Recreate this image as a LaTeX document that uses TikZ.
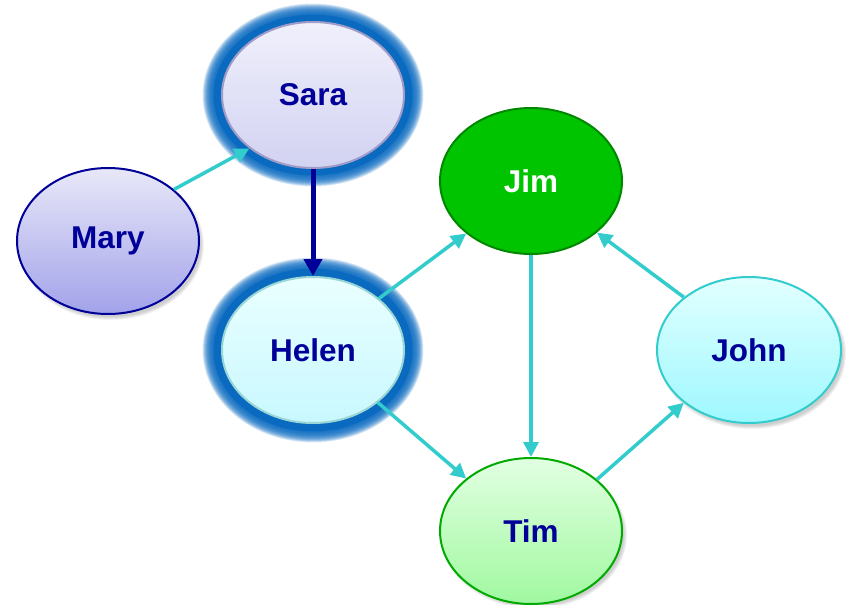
\documentclass[tikz,border=0pt]{standalone}
\usepackage{fontspec}
\setmainfont{Liberation Sans}
\usetikzlibrary{shapes.geometric,arrows.meta}

\definecolor{navy}{HTML}{000099}
\definecolor{linkcyan}{HTML}{33CCCC}
\definecolor{glowblue}{HTML}{0A6AC0}
\definecolor{saraTop}{HTML}{F0F0FC}
\definecolor{saraBot}{HTML}{D2D2F2}
\definecolor{saraLine}{HTML}{A09CC8}
\definecolor{maryTop}{HTML}{E8E8F8}
\definecolor{maryBot}{HTML}{A2A2EA}
\definecolor{helenTop}{HTML}{EAFFFF}
\definecolor{helenBot}{HTML}{C8F8FF}
\definecolor{helenLine}{HTML}{9AD6D6}
\definecolor{jimFill}{HTML}{00C400}
\definecolor{jimLine}{HTML}{009A00}
\definecolor{johnTop}{HTML}{E2FFFF}
\definecolor{johnBot}{HTML}{9EF8FF}
\definecolor{timTop}{HTML}{E2FFE2}
\definecolor{timBot}{HTML}{A0F8A0}
\definecolor{timLine}{HTML}{00AA00}

\tikzset{
  person/.style={ellipse, minimum width=182pt, minimum height=146pt,
    inner sep=0pt, line width=2pt, text=navy,
    font=\fontsize{31.5}{36}\selectfont\bfseries},
  link/.style={draw=linkcyan, line width=3.5pt,
    -{Triangle[length=15pt,width=15pt]}},
  mainlink/.style={draw=navy, line width=5pt,
    -{Triangle[length=17pt,width=18pt]}},
}

% soft blue halo round an ellipse: centre, x radius, y radius
\newcommand\halo[4]{%
  \foreach \k in {19.5,19,...,9}
    \fill[glowblue, opacity=0.11] (#1,#2) ellipse [x radius={#3pt+\k pt}, y radius={#4pt+\k pt}];
  \fill[glowblue] (#1,#2) ellipse [x radius={#3pt+8.5pt}, y radius={#4pt+8.5pt}];
}
% faint drop shadow below and right of an ellipse
\newcommand\softshadow[4]{%
  \foreach \k in {0,1,2,3}
    \fill[black, opacity=0.05] (#1+3,#2+4) ellipse [x radius={#3pt+\k pt-1pt}, y radius={#4pt+\k pt-1pt}];
}

\begin{document}
\begin{tikzpicture}[x=1pt, y=-1pt]
  \useasboundingbox (0,0) rectangle (846,605);

  \halo{313}{95}{91}{72}
  \halo{313}{350}{91}{73}
  \softshadow{108}{241}{91}{73}
  \softshadow{749}{350}{92}{73}
  \softshadow{531}{531}{91}{72}

  \node[person, draw=saraLine, top color=saraTop, bottom color=saraBot]
    (sara) at (313,95) {Sara};
  \node[person, draw=navy, top color=maryTop, bottom color=maryBot]
    (mary) at (108,241) {Mary};
  \node[person, draw=helenLine, top color=helenTop, bottom color=helenBot]
    (helen) at (313,350) {Helen};
  \node[person, draw=jimFill!70!black, fill=jimFill, text=white]
    (jim) at (531,181) {Jim};
  \node[person, draw=linkcyan, top color=johnTop, bottom color=johnBot,
    minimum width=184pt] (john) at (749,350) {John};
  \node[person, draw=timLine, top color=timTop, bottom color=timBot]
    (tim) at (531,531) {Tim};

  \draw[mainlink] (sara.south) -- (helen.north);
  \draw[link] (mary.38.7) -- (sara.220);
  \draw[link] (helen.38) -- (jim.219);
  \draw[link] (helen.321) -- (tim.141);
  \draw[link] (jim.south) -- (tim.north);
  \draw[link] (tim.38) -- (john.219);
  \draw[link] (john.141) -- (jim.322);
\end{tikzpicture}
\end{document}
